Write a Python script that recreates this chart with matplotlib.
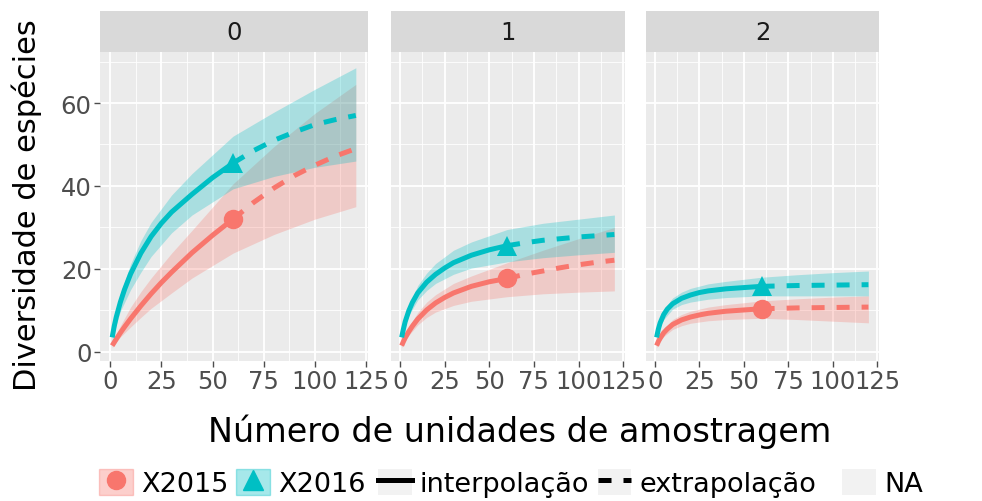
import matplotlib.pyplot as plt
from matplotlib.lines import Line2D
from matplotlib.patches import Patch
from matplotlib.legend_handler import HandlerTuple

plt.rcParams['font.family'] = 'DejaVu Sans'

RED = '#F8766D'
TEAL = '#00BFC4'

# sample sizes (interpolated, extrapolated, band grid)
m_int = [1, 2, 3, 5, 7, 10, 15, 20, 25, 30, 40, 50, 60]
m_ext = [60, 70, 80, 90, 100, 110, 120]
m_band = [1, 3, 5, 10, 15, 20, 30, 40, 60, 80, 100, 120]
orders = ['0', '1', '2']

# q = 0
q0_2015_int = [1.5, 2.3, 3.1, 4.6, 6.0, 8.0, 11.1, 14.0, 16.7, 19.2, 23.9, 28.1, 32]
q0_2015_ext = [32, 36, 39.5, 42.5, 45, 47.2, 49]
q0_2015_lo = [1, 2.3, 3.6, 6, 8.3, 10.5, 14.2, 17.8, 23.8, 28.3, 32, 35]
q0_2015_hi = [2, 4.3, 6.3, 10.8, 14.5, 17.8, 23.8, 29.3, 40.5, 49.5, 57.5, 64.5]
q0_2016_int = [3.5, 6.2, 8.4, 12, 15, 18.8, 23.8, 27.8, 31, 33.7, 38, 42, 45.5]
q0_2016_ext = [45.5, 48.5, 51, 53, 54.8, 56, 57]
q0_2016_lo = [2.5, 6.6, 9.8, 15, 19.2, 23, 28.7, 33, 39.3, 42.3, 44.5, 46]
q0_2016_hi = [4.5, 10.2, 14, 21.2, 26.8, 31.2, 37.8, 43, 52, 57.8, 63.3, 68.5]

# q = 1
q1_2015_int = [1.5, 2.5, 3.4, 4.9, 6.2, 7.9, 10.1, 11.8, 13.1, 14.2, 15.8, 16.9, 17.7]
q1_2015_ext = [17.7, 18.7, 19.5, 20.3, 21, 21.6, 22.1]
q1_2015_lo = [1, 2.7, 4, 6.5, 8.3, 9.6, 11.2, 12.2, 13.3, 14, 14.4, 14.7]
q1_2015_hi = [2, 4.3, 6, 9.5, 12, 13.8, 16.5, 18.3, 21.5, 24.5, 27.3, 30]
q1_2016_int = [3.5, 5.5, 7.3, 9.9, 11.9, 14.2, 16.8, 18.7, 20.2, 21.5, 23.3, 24.6, 25.6]
q1_2016_ext = [25.6, 26.3, 26.9, 27.3, 27.7, 28.0, 28.3]
q1_2016_lo = [2.8, 6.3, 8.8, 12.5, 14.8, 16.5, 18.7, 20.2, 21.7, 22.7, 23.4, 24]
q1_2016_hi = [4.2, 8.5, 11, 16, 19, 21.3, 24.5, 26.5, 29.5, 31, 32, 33]

# q = 2
q2_2015_int = [1.5, 2.5, 3.3, 4.6, 5.5, 6.6, 7.7, 8.4, 8.9, 9.3, 9.8, 10.1, 10.4]
q2_2015_ext = [10.4, 10.5, 10.6, 10.65, 10.7, 10.75, 10.8]
q2_2015_lo = [1, 2.6, 3.7, 5.4, 6.3, 6.9, 7.5, 7.8, 8.1, 7.8, 7.4, 7]
q2_2015_hi = [2, 4, 5.5, 7.8, 9, 9.8, 10.8, 11.4, 12.3, 12.8, 13.2, 13.5]
q2_2016_int = [3.5, 5.5, 7, 9, 10.3, 11.6, 12.9, 13.7, 14.3, 14.7, 15.2, 15.5, 15.8]
q2_2016_ext = [15.8, 15.9, 16, 16.05, 16.1, 16.15, 16.2]
q2_2016_lo = [2.8, 6, 7.8, 10.3, 11.4, 12, 12.7, 13.1, 13.5, 13.5, 13.5, 13.5]
q2_2016_hi = [4.2, 8, 10.2, 13, 14.4, 15.3, 16.4, 17, 18, 18.6, 19.1, 19.5]

panels = [
    [(q0_2015_int, q0_2015_ext, q0_2015_lo, q0_2015_hi),
     (q0_2016_int, q0_2016_ext, q0_2016_lo, q0_2016_hi)],
    [(q1_2015_int, q1_2015_ext, q1_2015_lo, q1_2015_hi),
     (q1_2016_int, q1_2016_ext, q1_2016_lo, q1_2016_hi)],
    [(q2_2015_int, q2_2015_ext, q2_2015_lo, q2_2015_hi),
     (q2_2016_int, q2_2016_ext, q2_2016_lo, q2_2016_hi)],
]
colors = [RED, TEAL]
markers = ['o', '^']
msizes = [14, 15]

W, H = 982, 502
fig = plt.figure(figsize=(W / 100, H / 100), dpi=100)

# panel boxes in pixels: left, right
boxes = [(100, 368), (391, 625), (646, 879)]
top, bottom, strip_top = 53, 362, 12

for k, (x0, x1) in enumerate(boxes):
    ax = fig.add_axes([x0 / W, 1 - bottom / H, (x1 - x0) / W, (bottom - top) / H])
    ax.set_facecolor('#EBEBEB')
    for s in ax.spines.values():
        s.set_visible(False)
    ax.set_xlim(-4.95, 125.95)
    ax.set_ylim(-2.2, 72.3)
    ax.set_xticks([0, 25, 50, 75, 100, 125])
    ax.set_xticks([12.5, 37.5, 62.5, 87.5, 112.5], minor=True)
    ax.set_yticks([0, 20, 40, 60])
    ax.set_yticks([10, 30, 50, 70], minor=True)
    ax.grid(which='major', color='white', lw=1.3)
    ax.grid(which='minor', color='white', lw=0.6)
    ax.set_axisbelow(True)
    ax.tick_params(which='minor', length=0)
    ax.tick_params(which='major', length=4, width=1, color='#4D4D4D',
                   labelcolor='#4D4D4D', labelsize=17.5, pad=2)
    if k > 0:
        ax.tick_params(axis='y', length=0, labelleft=False)

    for (yi, ye, lo, hi), c, mk, ms in zip(panels[k], colors, markers, msizes):
        ax.fill_between(m_band, lo, hi, color=c, alpha=0.28, lw=0)
        ax.plot(m_int, yi, color=c, lw=3.6, solid_capstyle='butt')
        ax.plot(m_ext, ye, color=c, lw=3.6, dashes=(2.6, 2.4))
        ax.plot([m_int[-1]], [yi[-1]], marker=mk, color=c, ms=ms, mew=0)

    # strip
    sax = fig.add_axes([x0 / W, 1 - top / H, (x1 - x0) / W, (top - strip_top) / H])
    sax.set_facecolor('#D9D9D9')
    sax.set_xticks([])
    sax.set_yticks([])
    for s in sax.spines.values():
        s.set_visible(False)
    sax.text(0.5, 0.5, orders[k], ha='center', va='center', fontsize=17.5,
             color='#1A1A1A', transform=sax.transAxes)

fig.text(27 / W, 1 - 205 / H, 'Diversidade de espécies', rotation=90,
         ha='center', va='center', fontsize=22)
fig.text(520 / W, 1 - 432 / H, 'Número de unidades de amostragem',
         ha='center', va='center', fontsize=24)

# legends
leg_kw = dict(frameon=False, fontsize=19.5, handlelength=1.25, handleheight=1.1,
              handletextpad=0.3, borderpad=0, borderaxespad=0, loc='center left')
tuple_map = {tuple: HandlerTuple(ndivide=1)}
h2015 = (Patch(facecolor=RED, alpha=0.35, edgecolor=RED),
         Line2D([], [], marker='o', color=RED, ms=13, lw=0))
h2016 = (Patch(facecolor=TEAL, alpha=0.35, edgecolor=TEAL),
         Line2D([], [], marker='^', color=TEAL, ms=14, lw=0))
fig.legend([h2015, h2016], ['X2015', 'X2016'], ncol=2, columnspacing=0.3,
           bbox_to_anchor=(99 / W, 1 - 484 / H), handler_map=tuple_map, **leg_kw)

key_bg = Patch(facecolor='#F2F2F2', edgecolor='none')
h_int = (key_bg, Line2D([], [], color='black', lw=3.6))
h_ext = (key_bg, Line2D([], [], color='black', lw=3.6, dashes=(2.6, 2.4)))
fig.legend([h_int, h_ext], ['interpolação', 'extrapolação'], ncol=2,
           columnspacing=0.3, bbox_to_anchor=(378 / W, 1 - 484 / H),
           handler_map=tuple_map, **leg_kw)
fig.legend([Patch(facecolor='#F2F2F2', edgecolor='none')], ['NA'],
           bbox_to_anchor=(842 / W, 1 - 484 / H), **leg_kw)

fig.savefig('out.png', dpi=100)
